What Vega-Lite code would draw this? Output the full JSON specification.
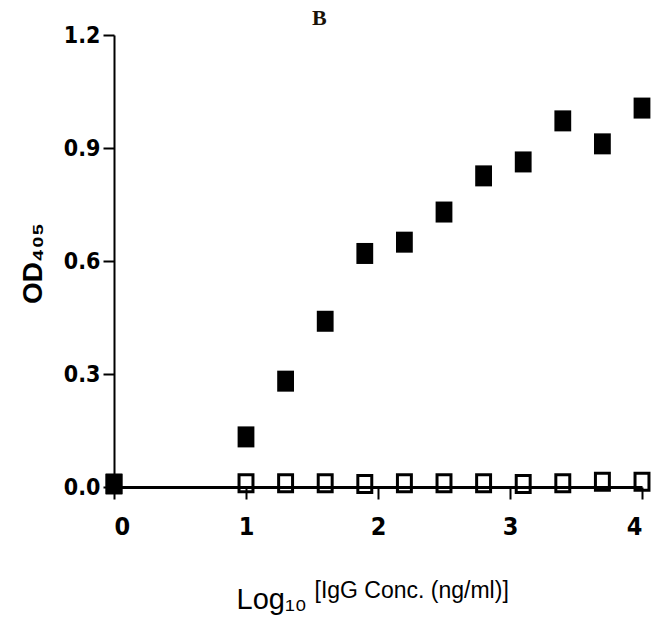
{
  "$schema": "https://vega.github.io/schema/vega-lite/v6.json",
  "width": 528,
  "height": 452,
  "autosize": {"type": "none"},
  "padding": {"left": 114, "top": 35, "right": 19, "bottom": 139},
  "background": "white",
  "config": {
    "view": {"stroke": null},
    "axis": {"grid": false}
  },
  "title": {
    "text": "B",
    "font": "Liberation Serif",
    "fontSize": 22,
    "fontWeight": "bold",
    "color": "#1a1208",
    "anchor": "start",
    "frame": "group",
    "dx": 198,
    "offset": -23,
    "baseline": "alphabetic"
  },
  "datasets": {
    "treated": [
      {"logconc": 0, "od": 0.008},
      {"logconc": 1.0, "od": 0.133},
      {"logconc": 1.3, "od": 0.281},
      {"logconc": 1.6, "od": 0.44},
      {"logconc": 1.9, "od": 0.62},
      {"logconc": 2.2, "od": 0.65},
      {"logconc": 2.5, "od": 0.73},
      {"logconc": 2.8, "od": 0.826},
      {"logconc": 3.1, "od": 0.863},
      {"logconc": 3.4, "od": 0.972},
      {"logconc": 3.7, "od": 0.911},
      {"logconc": 4.0, "od": 1.006}
    ],
    "control": [
      {"logconc": 0, "od": 0.008},
      {"logconc": 1.0, "od": 0.01},
      {"logconc": 1.3, "od": 0.01},
      {"logconc": 1.6, "od": 0.01},
      {"logconc": 1.9, "od": 0.008},
      {"logconc": 2.2, "od": 0.01},
      {"logconc": 2.5, "od": 0.01},
      {"logconc": 2.8, "od": 0.01},
      {"logconc": 3.1, "od": 0.008},
      {"logconc": 3.4, "od": 0.01},
      {"logconc": 3.7, "od": 0.014},
      {"logconc": 4.0, "od": 0.014}
    ]
  },
  "resolve": {"axis": {"x": "independent"}},
  "layer": [
    {
      "data": {"name": "control"},
      "mark": {
        "type": "point",
        "shape": "M-0.82,-1H0.82V1H-0.82Z",
        "filled": false,
        "size": 289,
        "stroke": "black",
        "strokeWidth": 3,
        "opacity": 1,
        "clip": false
      },
      "encoding": {
        "x": {
          "field": "logconc",
          "type": "quantitative",
          "scale": {"domain": [0, 4], "nice": false, "zero": false},
          "axis": {
            "orient": "top",
            "labels": false,
            "ticks": false,
            "domain": false,
            "title": "[IgG Conc. (ng/ml)]",
            "titleFont": "Liberation Sans",
            "titleFontSize": 23,
            "titleFontWeight": "normal",
            "titleColor": "black",
            "titleAlign": "left",
            "titleBaseline": "alphabetic",
            "titleX": 200,
            "titleY": 562
          }
        },
        "y": {
          "field": "od",
          "type": "quantitative",
          "scale": {"domain": [0, 1.2], "nice": false},
          "axis": {
            "values": [0, 0.3, 0.6, 0.9, 1.2],
            "format": ".1f",
            "domainColor": "black",
            "domainWidth": 2,
            "tickColor": "black",
            "tickWidth": 2,
            "tickSize": 11,
            "labelPadding": 3,
            "labelFont": "DejaVu Sans Condensed",
            "labelFontWeight": "bold",
            "labelFontSize": 23,
            "labelColor": "black",
            "title": "OD₄₀₅",
            "titleFont": "Liberation Sans",
            "titleFontWeight": "bold",
            "titleFontSize": 28,
            "titleColor": "black",
            "titleAngle": -90,
            "titleAlign": "center",
            "titleBaseline": "middle",
            "titleX": -81,
            "titleY": 228
          }
        }
      }
    },
    {
      "data": {"name": "treated"},
      "mark": {
        "type": "point",
        "shape": "M-0.8,-1H0.8V1H-0.8Z",
        "filled": true,
        "size": 441,
        "color": "black",
        "strokeWidth": 0,
        "opacity": 1,
        "clip": false
      },
      "encoding": {
        "x": {
          "field": "logconc",
          "type": "quantitative",
          "scale": {"domain": [0, 4], "nice": false, "zero": false},
          "axis": {
            "orient": "bottom",
            "values": [0, 1, 2, 3, 4],
            "format": "d",
            "domainColor": "black",
            "domainWidth": 3,
            "tickColor": "black",
            "tickWidth": 2,
            "tickSize": 12,
            "labelPadding": 15,
            "labelFont": "DejaVu Sans Condensed",
            "labelFontWeight": "bold",
            "labelFontSize": 25,
            "labelColor": "black",
            "title": "Log₁₀",
            "titleFont": "Liberation Sans",
            "titleFontSize": 29,
            "titleFontWeight": "normal",
            "titleColor": "black",
            "titleAlign": "left",
            "titleBaseline": "alphabetic",
            "titleX": 122,
            "titleY": 121
          }
        },
        "y": {"field": "od", "type": "quantitative"}
      }
    }
  ]
}
